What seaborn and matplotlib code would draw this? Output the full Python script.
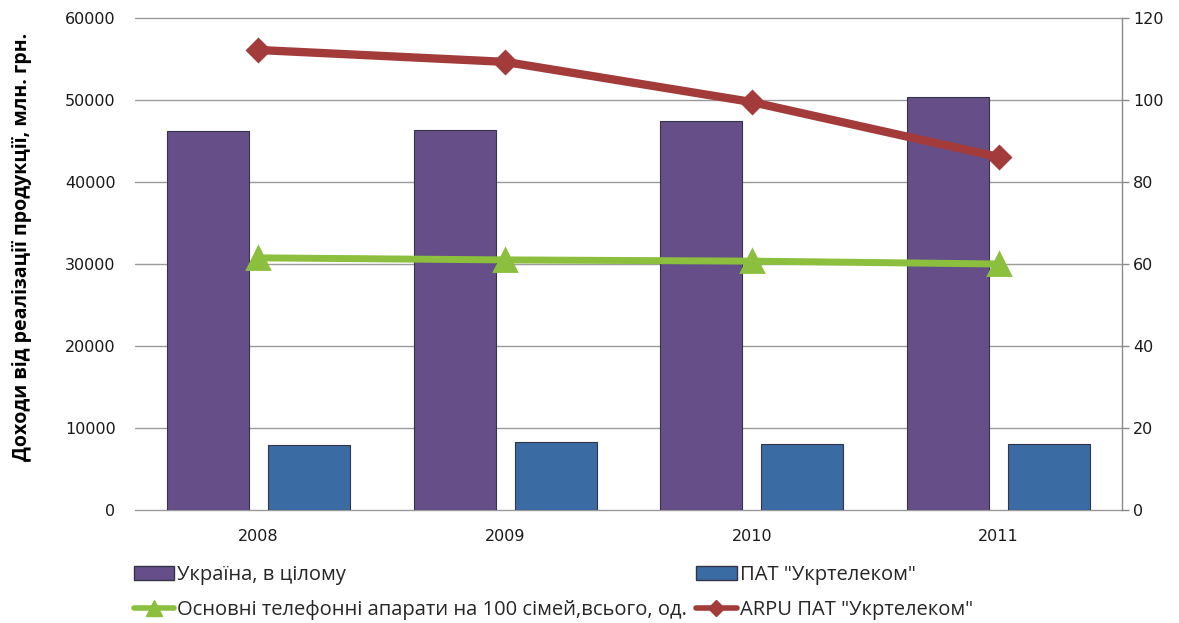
import matplotlib
matplotlib.use("Agg")
import matplotlib.pyplot as plt
import seaborn as sns
import pandas as pd
from matplotlib.patches import Patch
from matplotlib.lines import Line2D

years = ["2008", "2009", "2010", "2011"]
ukraine_total = [46200, 46350, 47450, 50350]
ukrtelecom = [7950, 8250, 8050, 8050]
phones_per_100 = [61.5, 61.0, 60.7, 60.0]
arpu = [112.2, 109.3, 99.5, 86.1]

bar_names = ["Україна, в цілому", "ПАТ \"Укртелеком\""]
line_names = ["Основні телефонні апарати на 100 сімей,всього, од.", "ARPU ПАТ \"Укртелеком\""]
ylabel = "Доходи від реалізації продукції, млн. грн."

c_purple = "#664f88"
c_blue = "#3b6ba3"
c_green = "#8cbf3e"
c_red = "#a33b3b"

sns.set_theme(style="white")
plt.rcParams["font.family"] = ["DejaVu Sans"]

bars = pd.DataFrame({
    "year": years * 2,
    "value": ukraine_total + ukrtelecom,
    "series": [bar_names[0]] * 4 + [bar_names[1]] * 4,
})
lines_a = pd.DataFrame({"year": years, "value": phones_per_100})
lines_b = pd.DataFrame({"year": years, "value": arpu})

fig = plt.figure(figsize=(11.79, 6.23), dpi=100)
ax = fig.add_axes([135 / 1179, 1 - 510 / 623, (1122 - 135) / 1179, (510 - 18) / 623])

sns.barplot(data=bars, x="year", y="value", hue="series", order=years,
            hue_order=bar_names, palette=[c_purple, c_blue], width=0.82, gap=0.19,
            saturation=1, ax=ax, legend=False, edgecolor="#33334a", linewidth=0.8,
            errorbar=None)

ax.set_ylim(0, 60000)
ax.set_yticks(range(0, 60001, 10000))
ax.yaxis.grid(True, color="#9a9a9a", linewidth=1, clip_on=False)
ax.set_axisbelow(True)
for s in ["left", "top", "right", "bottom"]:
    ax.spines[s].set_visible(False)
ax.tick_params(axis="y", length=0, pad=14, labelsize=11.5, labelcolor="#1a1a1a")
ax.tick_params(axis="x", length=0, pad=14, labelsize=11.5, labelcolor="#1a1a1a")
ax.set_xlabel("")
ax.set_ylabel(ylabel, fontsize=14, fontweight="bold", family=["Open Sans", "DejaVu Sans"],
              color="black")
ax.yaxis.set_label_coords(-0.104, 0.535)
ax.set_xlim(-0.5, 3.5)

ax2 = ax.twinx()
sns.pointplot(data=lines_a, x="year", y="value", order=years, color=c_green,
              markers="^", ax=ax2, errorbar=None)
sns.pointplot(data=lines_b, x="year", y="value", order=years, color=c_red,
              markers="D", ax=ax2, errorbar=None)
for ln, lw, ms in zip(ax2.lines, [5, 6], [16, 11]):
    ln.set_linewidth(lw)
    ln.set_markersize(ms)
ax2.set_ylim(0, 120)
ax2.set_yticks(range(0, 121, 20))
ax2.set_xlim(-0.5, 3.5)
ax2.set_ylabel("")
ax2.set_xlabel("")
for s in ["left", "top", "bottom"]:
    ax2.spines[s].set_visible(False)
ax2.spines["right"].set_color("#8a8a8a")
ax2.spines["right"].set_linewidth(1)
ax2.tick_params(axis="y", length=5, width=1, color="#8a8a8a", pad=3, labelsize=11.5,
                labelcolor="#1a1a1a")
ax2.grid(False)

handles = [
    Patch(facecolor=c_purple, edgecolor="#33334a"),
    Line2D([], [], color=c_green, lw=4, marker="^", markersize=11),
    Patch(facecolor=c_blue, edgecolor="#33334a"),
    Line2D([], [], color=c_red, lw=4, marker="D", markersize=8),
]
labels = [bar_names[0], line_names[0], bar_names[1], line_names[1]]
fig.legend(handles, labels, ncol=2, loc="upper left", bbox_to_anchor=(126 / 1179, 1 - 557 / 623),
           frameon=False, handlelength=2.0, handletextpad=0.15, columnspacing=0.45,
           labelspacing=0.75, borderaxespad=0,
           prop={"family": ["Open Sans", "DejaVu Sans"], "size": 14.5})

fig.savefig("out.png", dpi=100)
